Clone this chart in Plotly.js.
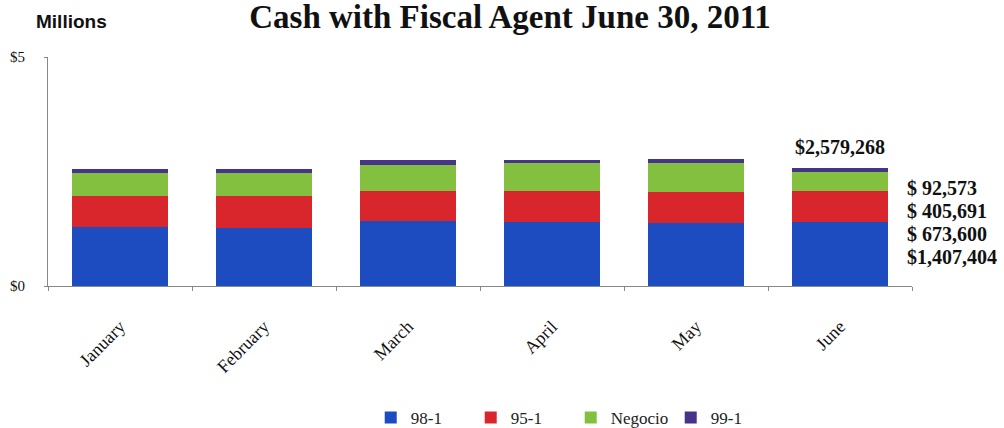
<!DOCTYPE html>
<html><head><meta charset="utf-8">
<script src="https://cdn.plot.ly/plotly-3.0.1.min.js"></script>
<style>html,body{margin:0;padding:0;background:#fff;}#chart{width:1004px;height:428px;}</style>
</head><body><div id="chart"></div>
<script>
const months = ["January","February","March","April","May","June"];
const s981 = [1.29, 1.26, 1.43, 1.40, 1.38, 1.407404];
const s951 = [0.67, 0.70, 0.65, 0.68, 0.68, 0.673600];
const negocio = [0.50, 0.50, 0.56, 0.60, 0.62, 0.405691];
const s991 = [0.09, 0.09, 0.11, 0.07, 0.09, 0.092573];
const seriesNames = ["98-1","95-1","Negocio","99-1"];
const juneLabels = ["$ 92,573","$ 405,691","$ 673,600","$1,407,404"];
const juneTotal = "$2,579,268";
const yTickVals = [0,5];
const yTickText = ["$0","$5"];

const colors = ["#1d4cc0","#d8262c","#83c040","#46338a"];
const data = [s981, s951, negocio, s991].map((v,i)=>({
  type:"bar", x:months, y:v, name:seriesNames[i],
  marker:{color:colors[i], line:{width:0}}, width:0.66,
  hoverinfo:"y"
}));

const serif = "Liberation Serif, Times New Roman, serif";
const annotations = [
  {text:"<b>Millions</b>", xref:"paper", yref:"paper", x:-0.016, y:1.155, xanchor:"left", yanchor:"middle",
   showarrow:false, font:{family:"Liberation Sans, Arial, sans-serif", size:19, color:"#111"}},
  {text:"<b>"+juneTotal+"</b>", xref:"x", yref:"y", x:"June",
   y:s981[5]+s951[5]+negocio[5]+s991[5], yanchor:"bottom", yshift:8, showarrow:false,
   font:{family:serif, size:20, color:"#111"}}
];
juneLabels.forEach((t,i)=>{
  annotations.push({text:"<b>"+t+"</b>", xref:"paper", yref:"paper", x:0.992, y:0.428-i*0.1,
    xanchor:"left", yanchor:"middle", showarrow:false, font:{family:serif, size:20, color:"#111"}});
});

const layout = {
  width:1004, height:428, barmode:"stack",
  paper_bgcolor:"#fff", plot_bgcolor:"#fff",
  margin:{l:48, r:92, t:57, b:142, autoexpand:false},
  title:{text:"<b>Cash with Fiscal Agent June 30, 2011</b>", x:0.508, xanchor:"center", y:0.962, yanchor:"middle",
    font:{family:serif, size:33, color:"#111"}},
  showlegend:true,
  legend:{orientation:"h", x:0.605, xanchor:"center", y:-0.576, yanchor:"middle", traceorder:"normal",
    font:{family:serif, size:17, color:"#222"}, itemwidth:30, entrywidth:55, entrywidthmode:"pixels"},
  xaxis:{type:"category", showline:true, linecolor:"#888", linewidth:1, ticks:"outside", tickson:"boundaries",
    ticklen:4, tickcolor:"#888", tickangle:-45, ticklabelstandoff:22, automargin:false,
    tickfont:{family:serif, size:18, color:"#111"}, showgrid:false, zeroline:false},
  yaxis:{range:[0,5], tickvals:yTickVals, ticktext:yTickText, showline:true, linecolor:"#888", linewidth:1,
    ticks:"outside", ticklen:3, tickcolor:"#888", showgrid:false, zeroline:false, ticklabelstandoff:16, automargin:false,
    tickfont:{family:serif, size:15, color:"#111"}},
  annotations:annotations,
  bargap:0.34
};
Plotly.newPlot("chart", data, layout, {displayModeBar:false, staticPlot:true});
</script></body></html>
